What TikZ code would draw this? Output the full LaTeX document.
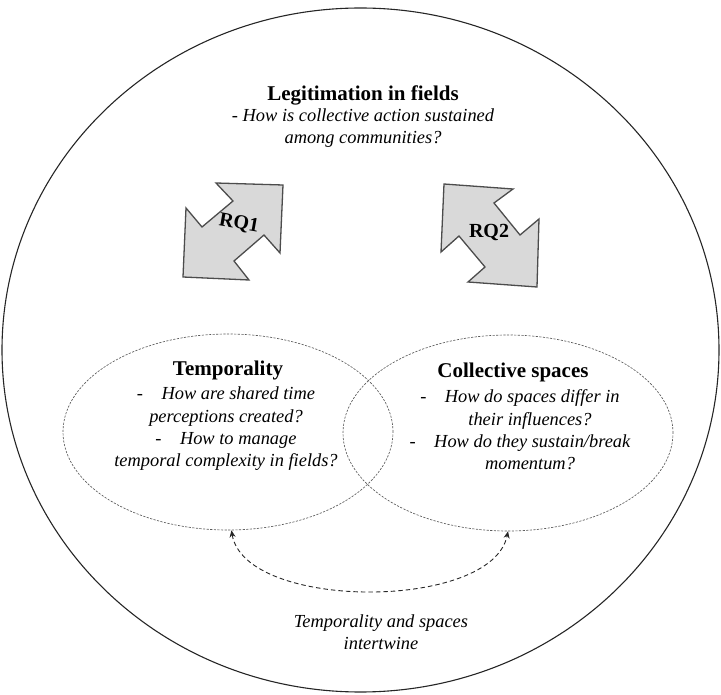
\documentclass[tikz,border=0pt]{standalone}
\usepackage{fontspec}
\setmainfont{Liberation Serif}
\usetikzlibrary{shapes.geometric,arrows.meta}
\begin{document}
\begin{tikzpicture}[x=1pt,y=-1pt,
  outer/.style={ellipse, draw=black!85, line width=1.1pt, inner sep=0pt, minimum width=717pt, minimum height=684pt},
  topic/.style={ellipse, draw=black!65, dash pattern=on 2.2pt off 1.4pt, line width=0.65pt, inner sep=0pt, minimum width=330pt, minimum height=196pt},
  rqshape/.style={draw=black!70, fill=black!15, line width=1.3pt, line join=miter},
  rqlabel/.style={font=\fontsize{20}{24}\selectfont\bfseries, inner sep=0pt},
  heading/.style={font=\fontsize{21}{25}\selectfont\bfseries, inner sep=0pt},
  body/.style={font=\fontsize{18.4}{22.3}\selectfont\itshape, align=center, inner sep=0pt},
  link/.style={dash pattern=on 4.5pt off 3pt, line width=0.9pt, black!85, {Stealth[length=7pt,width=6pt]}-{Stealth[length=7pt,width=6pt]}}
]
\useasboundingbox (0,0) rectangle (721,695);

\node[outer] (field) at (360.5,350) {};
\node[topic] (temp) at (228,432) {};
\node[topic] (space) at (508,433) {};

\node[heading] (legtitle) at (363,95) {Legitimation in fields};
\node[body] (legq) at (363,128) {- How is collective action sustained\\among communities?};

\draw[rqshape] (216,183) -- (283,185) -- (280,253) -- (264,235) -- (234,261) -- (249,280) -- (183,277) -- (186,208) -- (202,227) -- (233,201) -- cycle;
\node[rqlabel, rotate=-10] (rq1) at (239,224) {RQ1};

\draw[rqshape] (444,184) -- (513,189) -- (494,203) -- (520,235) -- (539,219) -- (537,287) -- (468,282) -- (485,267) -- (459,236) -- (441,252) -- cycle;
\node[rqlabel] (rq2) at (489,233) {RQ2};

\node[heading] (temptitle) at (228,370) {Temporality};
\node[body] (tempq) at (226,429) {\textup{-}\hspace{1em}How are shared time\\perceptions created?\\\textup{-}\hspace{1em}How to manage\\temporal complexity in fields?};

\node[heading] (spacetitle) at (513,372) {Collective spaces};
\node[body] (spaceq) at (520,430) {\textup{-}\hspace{1em}How do spaces differ in\\\hspace*{20pt}their influences?\\\textup{-}\hspace{1em}How do they sustain/break\\\hspace*{20pt}momentum?};

\draw[link] (temp.-88) .. controls (245,611) and (492,611) .. (space.south);

\node[body] (linkq) at (381,632) {Temporality and spaces\\intertwine};
\end{tikzpicture}
\end{document}
